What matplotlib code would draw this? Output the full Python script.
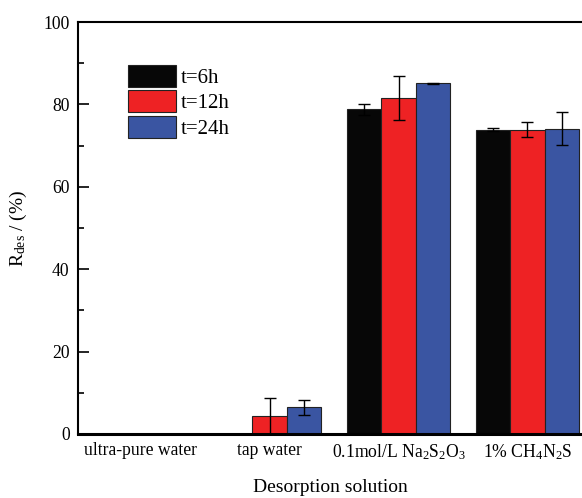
import numpy as np
import matplotlib.pyplot as plt
from matplotlib.ticker import MultipleLocator

plt.rcParams['font.family'] = 'Liberation Serif'
plt.rcParams['mathtext.fontset'] = 'custom'
plt.rcParams['mathtext.rm'] = 'Liberation Serif'
plt.rcParams['mathtext.it'] = 'Liberation Serif:italic'

# Data
categories = ['ultra-pure water', 'tap water',
              r'0.1mol/L Na$_2$S$_2$O$_3$', r'1% CH$_4$N$_2$S']
series = ['t=6h', 't=12h', 't=24h']
r_6h = [0, 0, 78.8, 73.9]
r_12h = [0, 4.4, 81.6, 73.9]
r_24h = [0, 6.5, 85.1, 74.1]
err_6h = [0, 0, 1.4, 0.3]
err_12h = [0, 4.4, 5.3, 1.9]
err_24h = [0, 1.8, 0.1, 4.0]
colors = ['#070707', '#ee2224', '#3a55a2']

fig = plt.figure(figsize=(5.82, 4.98), dpi=100)
ax = fig.add_axes([78 / 582, 1 - 434 / 498, 1 - 78 / 582, 412 / 498])

x = np.arange(len(categories))
w = 0.267
vals = [r_6h, r_12h, r_24h]
errs = [err_6h, err_12h, err_24h]
for i in range(3):
    v = np.array(vals[i])
    e = np.array(errs[i])
    mask = v > 0
    ax.bar(x[mask] + (i - 1) * w, v[mask], w, color=colors[i],
           edgecolor='#222222', linewidth=0.8, label=series[i])
    ax.errorbar(x[mask] + (i - 1) * w, v[mask], yerr=e[mask], fmt='none',
                ecolor='black', elinewidth=1, capsize=4, capthick=1)

ax.set_xlim(-0.487, 3.423)
ax.set_ylim(0, 100)
ax.yaxis.set_major_locator(MultipleLocator(20))
ax.yaxis.set_minor_locator(MultipleLocator(10))
ax.tick_params(axis='y', which='major', direction='in', length=8, width=1.2,
               labelsize=12.7, pad=6)
ax.tick_params(axis='y', which='minor', direction='in', length=4, width=1.2)
ax.tick_params(axis='x', length=0, labelsize=12.7, pad=6)
ax.set_xticks(x)
ax.set_xticklabels(categories)

ax.spines['right'].set_visible(False)
ax.spines['left'].set_linewidth(1.5)
ax.spines['top'].set_linewidth(1.5)
ax.spines['bottom'].set_linewidth(2.2)

ax.set_xlabel('Desorption solution', fontsize=14, labelpad=12)
ax.set_ylabel(r'R$_{\rm des}$ / (%)', fontsize=14, labelpad=10)

ax.legend(loc='upper left', bbox_to_anchor=(0.082, 0.917), frameon=False,
          fontsize=15, handlelength=2.3, handleheight=1.25, handletextpad=0.25,
          labelspacing=0.13, borderaxespad=0)

fig.savefig('out.png', dpi=100)
